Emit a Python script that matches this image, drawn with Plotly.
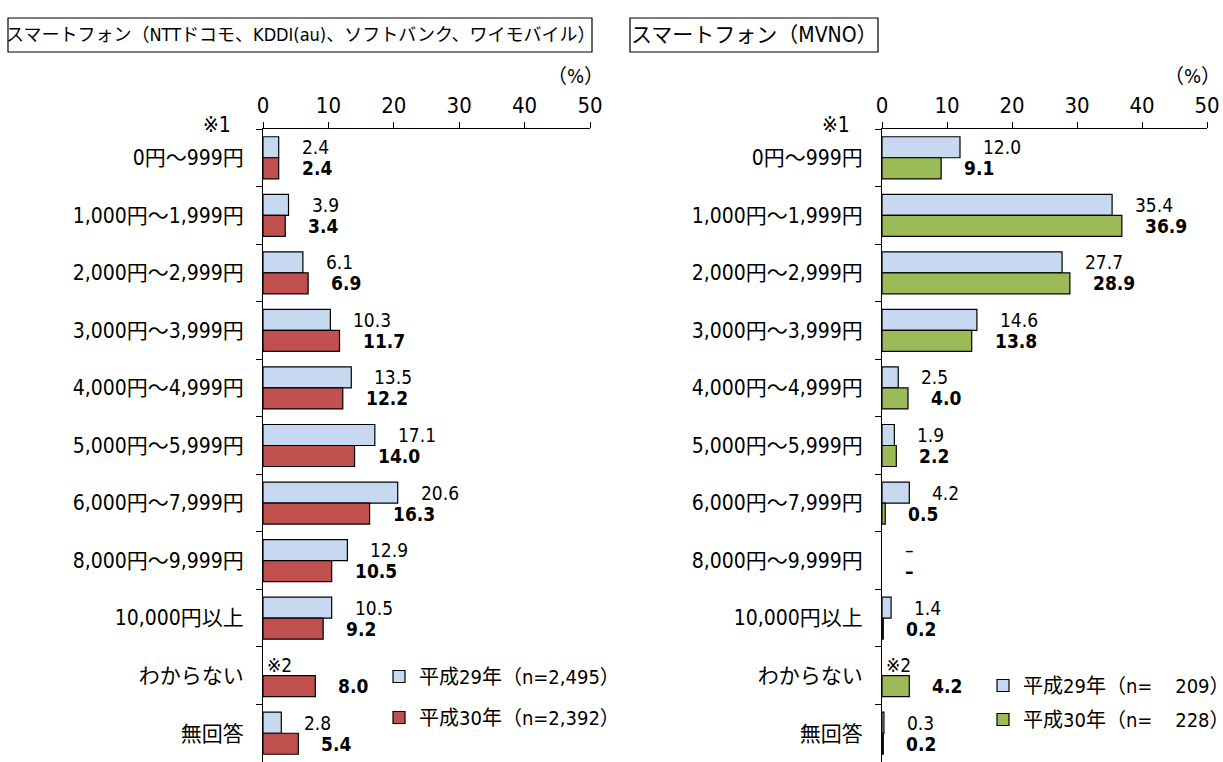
import plotly.graph_objects as go

W, H = 1223, 762

categories = ["0円～999円", "1,000円～1,999円", "2,000円～2,999円", "3,000円～3,999円",
              "4,000円～4,999円", "5,000円～5,999円", "6,000円～7,999円", "8,000円～9,999円",
              "10,000円以上", "わからない", "無回答"]

# carrier smartphones (NTT docomo, KDDI, SoftBank, Y!mobile)
carrier_h29 = [2.4, 3.9, 6.1, 10.3, 13.5, 17.1, 20.6, 12.9, 10.5, None, 2.8]
carrier_h30 = [2.4, 3.4, 6.9, 11.7, 12.2, 14.0, 16.3, 10.5, 9.2, 8.0, 5.4]

# MVNO smartphones
mvno_h29 = [12.0, 35.4, 27.7, 14.6, 2.5, 1.9, 4.2, None, 1.4, None, 0.3]
mvno_h30 = [9.1, 36.9, 28.9, 13.8, 4.0, 2.2, 0.5, None, 0.2, 4.2, 0.2]

xticks = [0, 10, 20, 30, 40, 50]

FONT = "Liberation Sans Narrow, DejaVu Sans Condensed, Noto Sans CJK JP, sans-serif"
BLUE = "#C6D9F1"
RED = "#C0504D"
GREEN = "#9BBB59"

def px_x(p):
    return p / W

def px_y(p):
    return 1 - p / H

fig = go.Figure()

panels = [
    dict(xa="x", ya="y", h29=carrier_h29, h30=carrier_h30, c30=RED, legend="legend",
         n29="2,495", n30="2,392"),
    dict(xa="x2", ya="y2", h29=mvno_h29, h30=mvno_h30, c30=GREEN, legend="legend2",
         n29="\u00a0\u00a0\u00a0\u00a0209", n30="\u00a0\u00a0\u00a0\u00a0228"),
]

for i, p in enumerate(panels):
    fig.add_trace(go.Bar(
        y=categories, x=p["h29"], orientation="h", xaxis=p["xa"], yaxis=p["ya"],
        name="平成29年（n=" + p["n29"] + "）", legend=p["legend"], legendgroup="a%d" % i,
        marker=dict(color=BLUE, line=dict(color="#000000", width=1.2)),
    ))
    fig.add_trace(go.Bar(
        y=categories, x=p["h30"], orientation="h", xaxis=p["xa"], yaxis=p["ya"],
        name="平成30年（n=" + p["n30"] + "）", legend=p["legend"], legendgroup="b%d" % i,
        marker=dict(color=p["c30"], line=dict(color="#000000", width=1.2)),
    ))

    # value labels
    for cat, v29, v30 in zip(categories, p["h29"], p["h30"]):
        if v29 is None:
            t29 = "※2" if cat == "わからない" else "–"
        else:
            t29 = "%.1f" % v29
        t30 = "–" if v30 is None else "%.1f" % v30
        sh29 = 2 if t29 == "※2" else 21
        fig.add_annotation(x=v29 or 0, y=cat, xref=p["xa"], yref=p["ya"], text=t29,
                           showarrow=False, xanchor="left", yanchor="middle",
                           xshift=sh29, yshift=10.5,
                           font=dict(family=FONT, size=19, color="#000000"))
        fig.add_annotation(x=v30 or 0, y=cat, xref=p["xa"], yref=p["ya"], text="<b>" + t30 + "</b>",
                           showarrow=False, xanchor="left", yanchor="middle",
                           xshift=21, yshift=-10.5,
                           font=dict(family=FONT, size=19, color="#000000"))

    # ※1 marker and (%) unit
    fig.add_annotation(x=0, y=px_y(125), xref=p["xa"], yref="paper", text="※1",
                       showarrow=False, xanchor="right", yanchor="middle", xshift=-30,
                       font=dict(family=FONT, size=21, color="#000000"))
    fig.add_annotation(x=50, y=px_y(76), xref=p["xa"], yref="paper", text="（%）",
                       showarrow=False, xanchor="right", yanchor="middle", xshift=16,
                       font=dict(family=FONT, size=20, color="#000000"))

axis_x = dict(range=[0, 50], side="top", tickvals=xticks, ticks="outside", ticklen=6,
              tickcolor="#000000", showline=True, linecolor="#000000", linewidth=1,
              showgrid=False, zeroline=False, fixedrange=True, automargin=False,
              tickfont=dict(family=FONT, size=22, color="#000000"))
axis_y = dict(autorange="reversed", tickson="boundaries", ticks="outside", ticklen=6,
              tickcolor="#000000", showline=True, linecolor="#000000", linewidth=1,
              showgrid=False, ticklabelstandoff=14, fixedrange=True, automargin=False,
              tickfont=dict(family=FONT, size=21, color="#000000"))

top = px_y(129)
fig.update_layout(
    template="none",
    width=W, height=H,
    margin=dict(l=0, r=0, t=0, b=0, autoexpand=False),
    paper_bgcolor="#ffffff", plot_bgcolor="#ffffff",
    barmode="group", bargap=0.27, bargroupgap=0,
    xaxis=dict(axis_x, domain=[px_x(263), px_x(590)], anchor="y"),
    yaxis=dict(axis_y, domain=[0, top], anchor="x"),
    xaxis2=dict(axis_x, domain=[px_x(882), px_x(1207)], anchor="y2"),
    yaxis2=dict(axis_y, domain=[0, top], anchor="x2"),
    legend=dict(xref="container", yref="container", x=px_x(379), y=px_y(657),
                xanchor="left", yanchor="top", tracegroupgap=12, bgcolor="rgba(0,0,0,0)",
                borderwidth=0, font=dict(family=FONT, size=20, color="#000000")),
    legend2=dict(xref="container", yref="container", x=px_x(983), y=px_y(666),
                 xanchor="left", yanchor="top", tracegroupgap=5, bgcolor="rgba(0,0,0,0)",
                 borderwidth=0, font=dict(family=FONT, size=20, color="#000000")),
    showlegend=True,
)

# panel titles in boxes
fig.add_shape(type="rect", xref="paper", yref="paper",
              x0=px_x(8), x1=px_x(592), y0=px_y(52), y1=px_y(18),
              line=dict(color="#000000", width=1.2))
fig.add_annotation(x=px_x(300), y=px_y(35), xref="paper", yref="paper",
                   text="スマートフォン（NTTドコモ、KDDI(au)、ソフトバンク、ワイモバイル）",
                   showarrow=False, xanchor="center", yanchor="middle",
                   font=dict(family=FONT, size=18, color="#000000"))
fig.add_shape(type="rect", xref="paper", yref="paper",
              x0=px_x(630), x1=px_x(878), y0=px_y(52), y1=px_y(18),
              line=dict(color="#000000", width=1.2))
fig.add_annotation(x=px_x(754), y=px_y(35), xref="paper", yref="paper",
                   text="スマートフォン（MVNO）",
                   showarrow=False, xanchor="center", yanchor="middle",
                   font=dict(family=FONT, size=21, color="#000000"))

# the page's default body margin would push the fixed-size figure off the window
fig.write_html("out.html", config={"displayModeBar": False},
               post_script="document.body.style.margin='0';document.body.style.overflow='hidden';")
